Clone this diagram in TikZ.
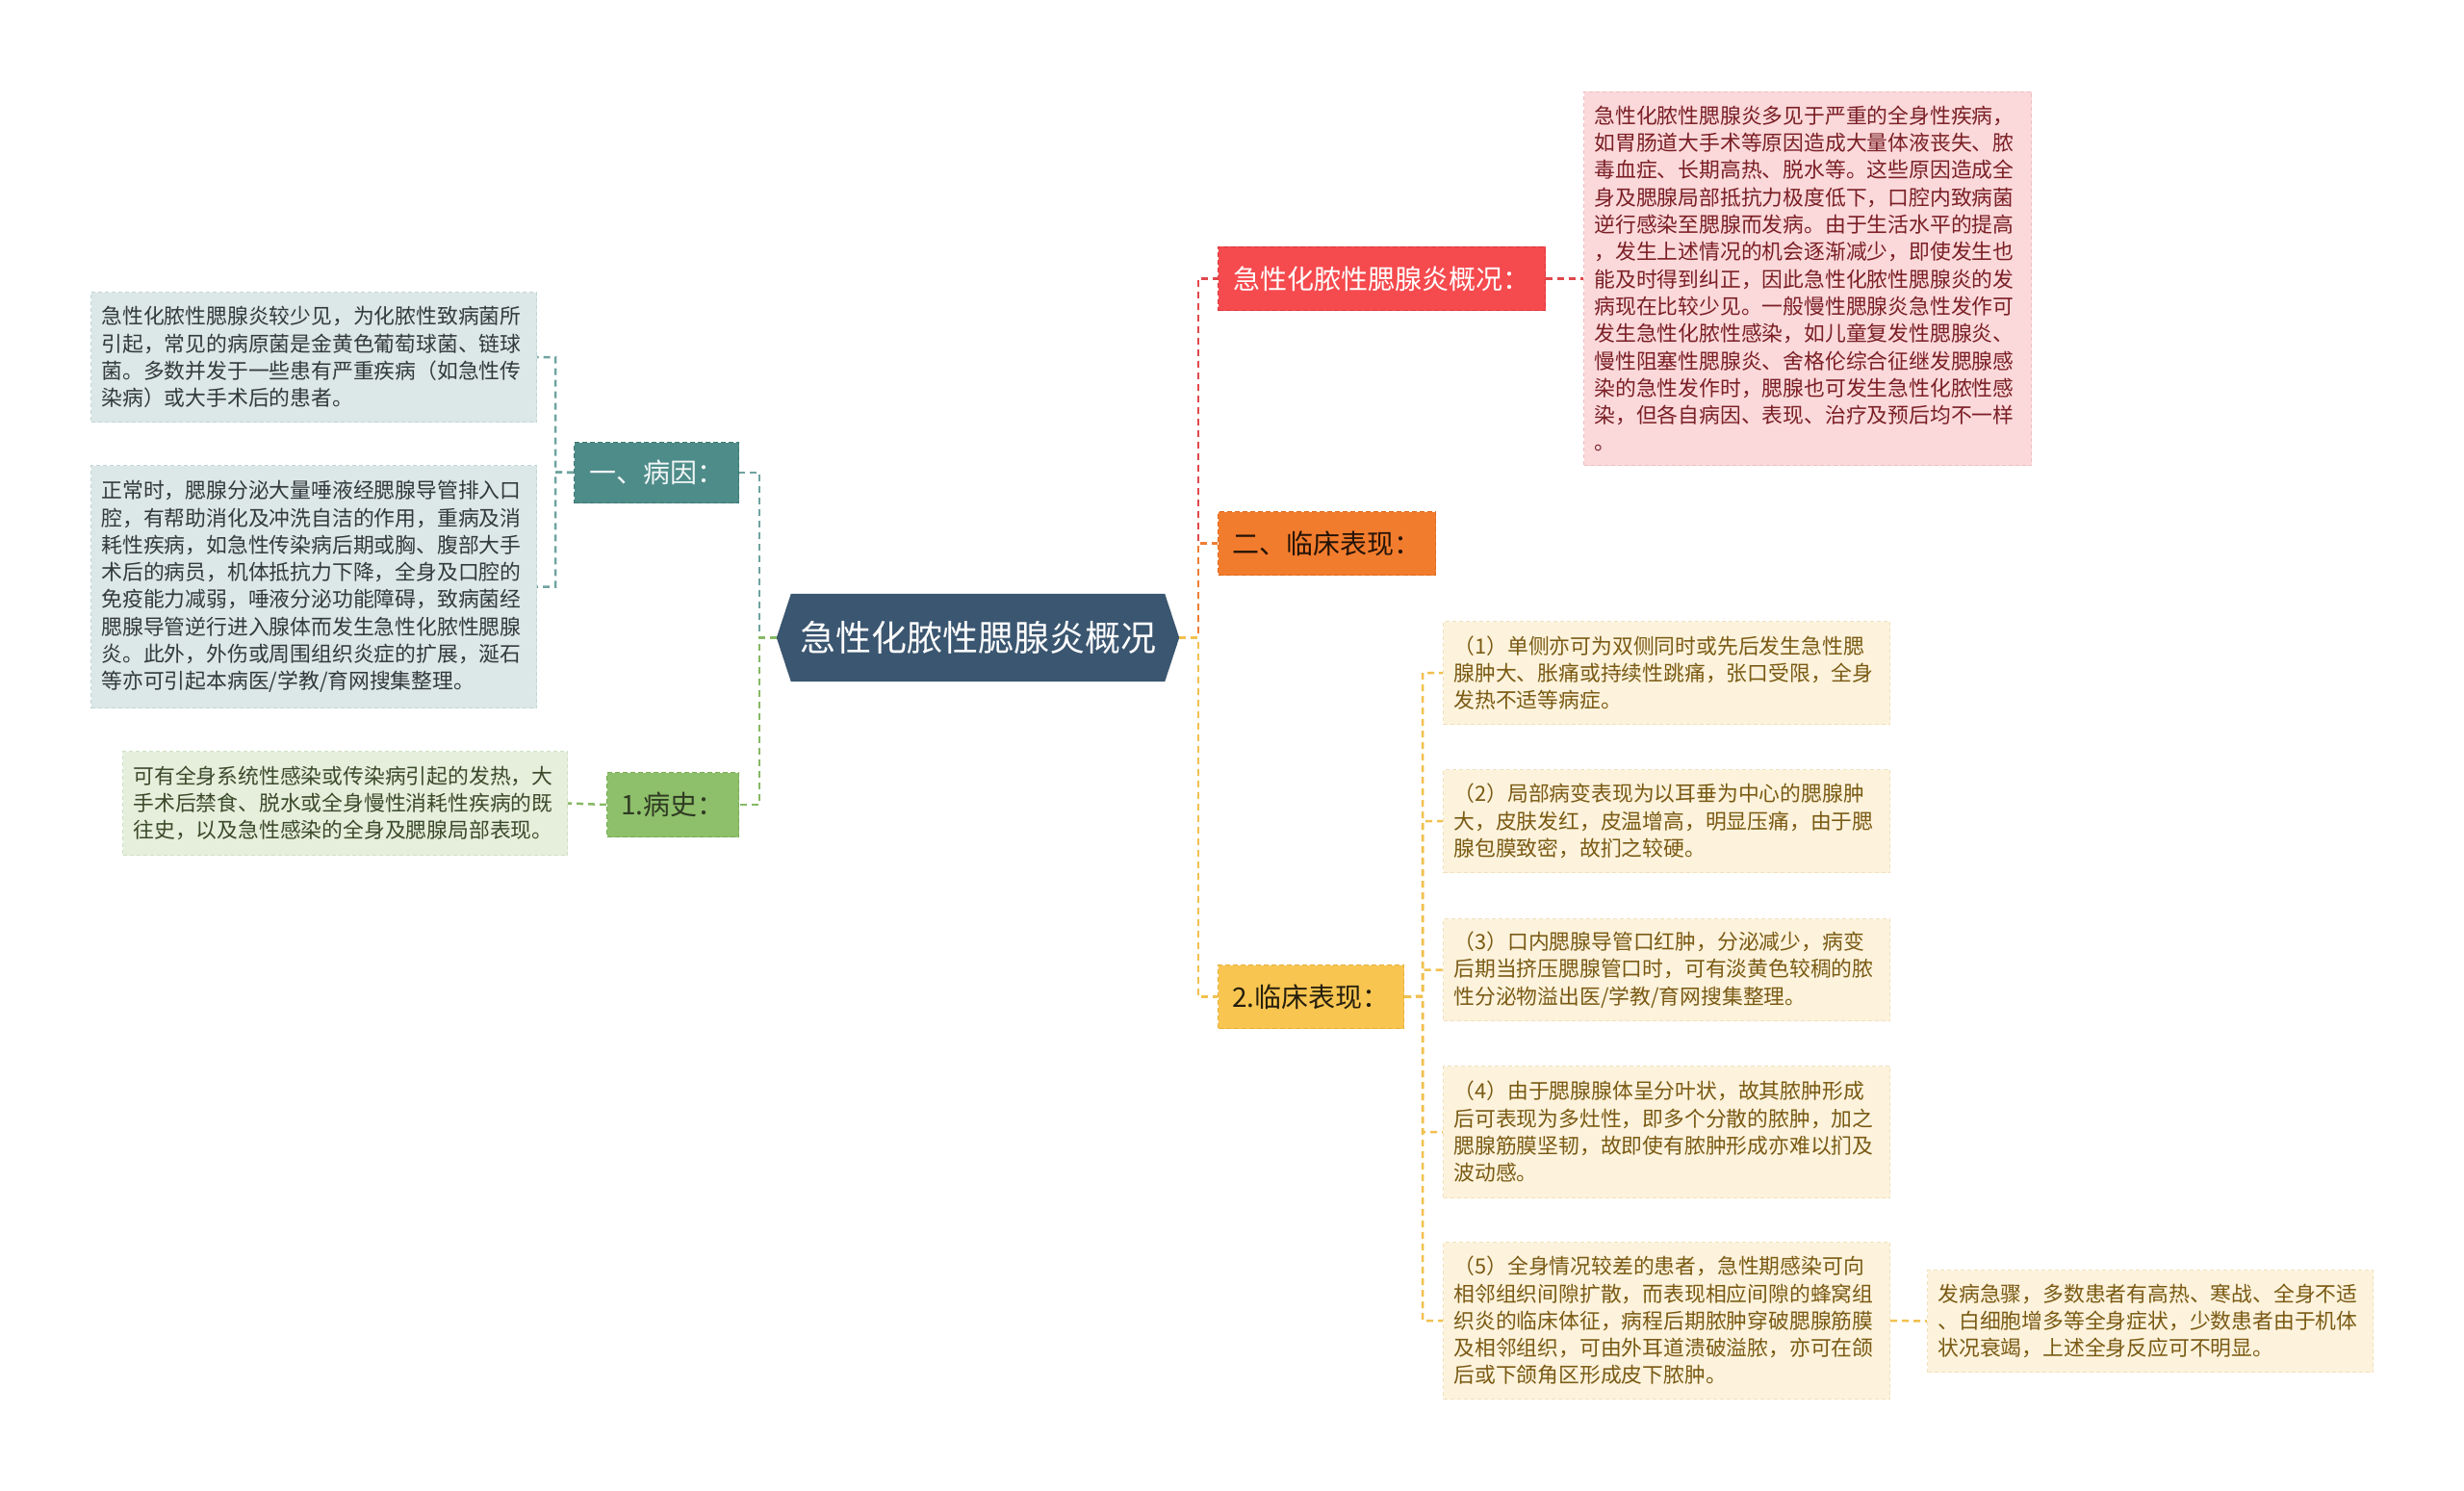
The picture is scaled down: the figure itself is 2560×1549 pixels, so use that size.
\documentclass[tikz,border=0pt]{standalone}
\usepackage{fontspec}
\setmainfont{Noto Sans CJK SC}
\usetikzlibrary{backgrounds}
\definecolor{cfill}{HTML}{3B5670}
\definecolor{tealB}{HTML}{4E8C89}
\definecolor{tealBd}{HTML}{3F7875}
\definecolor{tealL}{HTML}{DCE7E7}
\definecolor{tealLd}{HTML}{C3D5D5}
\definecolor{greenB}{HTML}{8EBF6B}
\definecolor{greenBd}{HTML}{78AC55}
\definecolor{greenL}{HTML}{E6EFDC}
\definecolor{greenLd}{HTML}{CFE0C2}
\definecolor{redB}{HTML}{F54A4E}
\definecolor{redBd}{HTML}{DD383D}
\definecolor{pinkL}{HTML}{FBD9DB}
\definecolor{pinkLd}{HTML}{EFBEC1}
\definecolor{orangeB}{HTML}{F27C2D}
\definecolor{orangeBd}{HTML}{DE6A1C}
\definecolor{yellowB}{HTML}{F8C551}
\definecolor{yellowBd}{HTML}{E6B03A}
\definecolor{creamL}{HTML}{FDF3DC}
\definecolor{creamLd}{HTML}{F1E0BC}
\definecolor{tealT}{HTML}{333A3A}
\definecolor{greenT}{HTML}{3B4A2B}
\definecolor{pinkT}{HTML}{7A1F25}
\definecolor{creamT}{HTML}{7A5A14}
\definecolor{tealC}{HTML}{6FA3A0}
\definecolor{greenC}{HTML}{86B865}
\definecolor{redC}{HTML}{E0484C}
\definecolor{orangeC}{HTML}{EE7D33}
\definecolor{yellowC}{HTML}{F1C04E}
\tikzset{
  tbox/.style={dash pattern=on 4pt off 3pt, line width=1pt, inner xsep=11pt, inner ysep=0pt,
    align=left, anchor=north west, font=\fontsize{21.8}{28.3}\selectfont},
  lab/.style={dash pattern=on 5pt off 3pt, line width=1pt, inner sep=0pt, anchor=north west,
    font=\fontsize{28}{30}\selectfont},
  conn/.style={dash pattern=on 7pt off 5pt, line width=2.5pt},
}
\begin{document}
\begin{tikzpicture}[x=1pt,y=-1pt]
\useasboundingbox (0,0) rectangle (2560,1549);

% central node
\node[minimum width=418pt, minimum height=91pt, inner sep=0pt, text=white,
  font=\fontsize{37}{40}\selectfont] (c) at (1016,662.5) {急性化脓性腮腺炎概况};
\begin{scope}[on background layer]
\fill[white] (0,0) rectangle (2560,1549);
\fill[cfill] ([xshift=15pt]c.north west) -- ([xshift=-15pt]c.north east) -- (c.east)
  -- ([xshift=-15pt]c.south east) -- ([xshift=15pt]c.south west) -- (c.west) -- cycle;
\end{scope}

% left branch labels
\node[lab, fill=tealB, draw=tealBd, text=white!92!tealB, minimum width=171pt, minimum height=63pt] (bingyin) at (596,459) {一、病因：};
\node[lab, fill=greenB, draw=greenBd, text=greenT!80!black, minimum width=137pt, minimum height=67pt] (bingshi) at (630,802) {1.病史：};

% left text boxes
\node[tbox, fill=tealL, draw=tealLd, text=tealT, text width=441pt, minimum height=135pt] (l1) at (94,303) {急性化脓性腮腺炎较少见，为化脓性致病菌所\\引起，常见的病原菌是金黄色葡萄球菌、链球\\菌。多数并发于一些患有严重疾病（如急性传\\染病）或大手术后的患者。};
\node[tbox, fill=tealL, draw=tealLd, text=tealT, text width=441pt, minimum height=252pt] (l2) at (94,483) {正常时，腮腺分泌大量唾液经腮腺导管排入口\\腔，有帮助消化及冲洗自洁的作用，重病及消\\耗性疾病，如急性传染病后期或胸、腹部大手\\术后的病员，机体抵抗力下降，全身及口腔的\\免疫能力减弱，唾液分泌功能障碍，致病菌经\\腮腺导管逆行进入腺体而发生急性化脓性腮腺\\炎。此外，外伤或周围组织炎症的扩展，涎石\\等亦可引起本病医/学教/育网搜集整理。};
\node[tbox, fill=greenL, draw=greenLd, text=greenT, text width=440pt, minimum height=108pt] (l3) at (127,780) {可有全身系统性感染或传染病引起的发热，大\\手术后禁食、脱水或全身慢性消耗性疾病的既\\往史，以及急性感染的全身及腮腺局部表现。};

% right branch labels
\node[lab, fill=redB, draw=redBd, text=white, minimum width=340pt, minimum height=66pt] (r1) at (1265,256) {急性化脓性腮腺炎概况：};
\node[lab, fill=orangeB, draw=orangeBd, text=black!85!orangeB, minimum width=226pt, minimum height=66pt] (r2) at (1265,531) {二、临床表现：};
\node[lab, fill=yellowB, draw=yellowBd, text=black!85!yellowB, minimum width=193pt, minimum height=66pt] (r3) at (1265,1002) {2.临床表现：};

% pink box
\node[tbox, fill=pinkL, draw=pinkLd, text=pinkT, text width=443pt, minimum height=388pt] (pink) at (1645,95) {急性化脓性腮腺炎多见于严重的全身性疾病，\\如胃肠道大手术等原因造成大量体液丧失、脓\\毒血症、长期高热、脱水等。这些原因造成全\\身及腮腺局部抵抗力极度低下，口腔内致病菌\\逆行感染至腮腺而发病。由于生活水平的提高\\，发生上述情况的机会逐渐减少，即使发生也\\能及时得到纠正，因此急性化脓性腮腺炎的发\\病现在比较少见。一般慢性腮腺炎急性发作可\\发生急性化脓性感染，如儿童复发性腮腺炎、\\慢性阻塞性腮腺炎、舍格伦综合征继发腮腺感\\染的急性发作时，腮腺也可发生急性化脓性感\\染，但各自病因、表现、治疗及预后均不一样\\。};

% cream boxes
\node[tbox, fill=creamL, draw=creamLd, text=creamT, text width=442pt, minimum height=107pt] (k1) at (1499,645) {（1）单侧亦可为双侧同时或先后发生急性腮\\腺肿大、胀痛或持续性跳痛，张口受限，全身\\发热不适等病症。};
\node[tbox, fill=creamL, draw=creamLd, text=creamT, text width=442pt, minimum height=107pt] (k2) at (1499,799) {（2）局部病变表现为以耳垂为中心的腮腺肿\\大，皮肤发红，皮温增高，明显压痛，由于腮\\腺包膜致密，故扪之较硬。};
\node[tbox, fill=creamL, draw=creamLd, text=creamT, text width=442pt, minimum height=106pt] (k3) at (1499,954) {（3）口内腮腺导管口红肿，分泌减少，病变\\后期当挤压腮腺管口时，可有淡黄色较稠的脓\\性分泌物溢出医/学教/育网搜集整理。};
\node[tbox, fill=creamL, draw=creamLd, text=creamT, text width=442pt, minimum height=137pt] (k4) at (1499,1107) {（4）由于腮腺腺体呈分叶状，故其脓肿形成\\后可表现为多灶性，即多个分散的脓肿，加之\\腮腺筋膜坚韧，故即使有脓肿形成亦难以扪及\\波动感。};
\node[tbox, fill=creamL, draw=creamLd, text=creamT, text width=442pt, minimum height=163pt] (k5) at (1499,1290) {（5）全身情况较差的患者，急性期感染可向\\相邻组织间隙扩散，而表现相应间隙的蜂窝组\\织炎的临床体征，病程后期脓肿穿破腮腺筋膜\\及相邻组织，可由外耳道溃破溢脓，亦可在颌\\后或下颌角区形成皮下脓肿。};
\node[tbox, fill=creamL, draw=creamLd, text=creamT, text width=441pt, minimum height=106pt] (far) at (2002,1319) {发病急骤，多数患者有高热、寒战、全身不适\\、白细胞增多等全身症状，少数患者由于机体\\状况衰竭，上述全身反应可不明显。};

% connectors left
\coordinate (ls) at (789,662.5);
\coordinate (ls2) at (577,490.5);
\draw[conn, tealC] (c.west) -- (ls) |- (bingyin.east);
\draw[conn, greenC] (c.west) -- (ls) |- (bingshi.east);
\draw[conn, tealC] (bingyin.west) -- (ls2) |- (l1.east);
\draw[conn, tealC] (bingyin.west) -- (ls2) |- (l2.east);
\draw[conn, greenC] (bingshi.west) -- (l3.east);

% connectors right
\coordinate (rs) at (1245,662.5);
\coordinate (rs2) at (1478,1035);
\draw[conn, redC] (c.east) -- (rs) |- (r1.west);
\draw[conn, orangeC] (c.east) -- (rs) |- (r2.west);
\draw[conn, yellowC] (c.east) -- (rs) |- (r3.west);
\draw[conn, redC] (r1.east) -- (pink.west);
\foreach \k in {k1,k2,k3,k4,k5}{
  \draw[conn, yellowC] (r3.east) -- (rs2) |- (\k.west);
}
\draw[conn, yellowC] (k5.east) -- (far.west);
\end{tikzpicture}
\end{document}
